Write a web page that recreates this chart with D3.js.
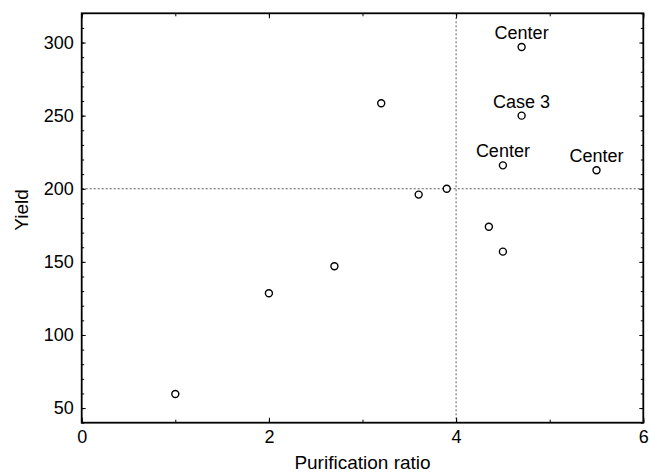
<!DOCTYPE html>
<html>
<head>
<meta charset="utf-8">
<script src="https://cdn.jsdelivr.net/npm/d3@7"></script>
<style>
html,body{margin:0;padding:0;background:#fff;}
svg{display:block;font-family:"Liberation Sans",Arial,Helvetica,sans-serif;}
</style>
</head>
<body>
<svg id="chart" width="649" height="473"></svg>
<script>
// Data
const purification = [1.0, 2.0, 2.7, 3.2, 3.6, 3.9, 4.35, 4.5, 4.5, 4.7, 4.7, 5.5];
const yieldVals    = [59.6, 128.5, 147, 258.5, 196, 200, 174, 157, 216, 297, 250, 212.7];
const pointLabels  = ["", "", "", "", "", "", "", "", "Center", "Center", "Case 3", "Center"];
const xTicks = [0, 2, 4, 6];
const yTicks = [50, 100, 150, 200, 250, 300];
const xRefLine = 4;
const yRefLine = 200;

(function () {
const svg = d3.select("#chart");
const pL = 81.7, pR = 643.3, pT = 13.3, pB = 422.7;

const x = d3.scaleLinear().domain([0, 6]).range([pL, pR]);
const y = d3.scaleLinear().domain([40, 320]).range([pB, pT]);

// reference lines
svg.append("line")
  .attr("x1", x(xRefLine)).attr("x2", x(xRefLine))
  .attr("y1", pT).attr("y2", pB)
  .attr("stroke", "#333").attr("stroke-width", 0.8).attr("stroke-dasharray", "2,2");
svg.append("line")
  .attr("x1", pL).attr("x2", pR)
  .attr("y1", y(yRefLine)).attr("y2", y(yRefLine))
  .attr("stroke", "#333").attr("stroke-width", 0.8).attr("stroke-dasharray", "2,2");

// minor ticks
const xMinor = d3.range(0, 6.01, 1);
const yMinor = d3.range(40, 320.1, 10);

function tickAxis(axisGen, transform) {
  const g = svg.append("g").attr("transform", transform).call(axisGen);
  g.select(".domain").remove();
  g.selectAll("line").attr("stroke", "#000").attr("stroke-width", 1);
  return g;
}

tickAxis(d3.axisBottom(x).tickValues(xMinor).tickSize(-3).tickFormat(""), `translate(0,${pB})`);
tickAxis(d3.axisBottom(x).tickValues(xTicks).tickSize(-5).tickFormat(""), `translate(0,${pB})`);
tickAxis(d3.axisTop(x).tickValues(xMinor).tickSize(-3).tickFormat(""), `translate(0,${pT})`);
tickAxis(d3.axisTop(x).tickValues(xTicks).tickSize(-5).tickFormat(""), `translate(0,${pT})`);
tickAxis(d3.axisLeft(y).tickValues(yMinor).tickSize(-2.5).tickFormat(""), `translate(${pL},0)`);
tickAxis(d3.axisLeft(y).tickValues(yTicks).tickSize(-4).tickFormat(""), `translate(${pL},0)`);
tickAxis(d3.axisRight(y).tickValues(yMinor).tickSize(-2.5).tickFormat(""), `translate(${pR},0)`);
tickAxis(d3.axisRight(y).tickValues(yTicks).tickSize(-4).tickFormat(""), `translate(${pR},0)`);

// tick labels
const xl = svg.append("g").attr("transform", `translate(0,${pB})`)
  .call(d3.axisBottom(x).tickValues(xTicks).tickSize(0).tickPadding(8).tickFormat(d3.format("d")));
xl.select(".domain").remove();
xl.selectAll("text").attr("font-size", 18).attr("fill", "#000").attr("font-family", "Liberation Sans, Arial, sans-serif");

const yl = svg.append("g").attr("transform", `translate(${pL},0)`)
  .call(d3.axisLeft(y).tickValues(yTicks).tickSize(0).tickPadding(8).tickFormat(d3.format("d")));
yl.select(".domain").remove();
yl.selectAll("text").attr("font-size", 18).attr("fill", "#000").attr("font-family", "Liberation Sans, Arial, sans-serif");

// frame
svg.append("rect")
  .attr("x", pL).attr("y", pT)
  .attr("width", pR - pL).attr("height", pB - pT)
  .attr("fill", "none").attr("stroke", "#000").attr("stroke-width", 1.8);

// points
const data = purification.map((p, i) => ({p, v: yieldVals[i], label: pointLabels[i]}));
svg.append("g").selectAll("circle").data(data).join("circle")
  .attr("cx", d => x(d.p)).attr("cy", d => y(d.v)).attr("r", 3.5)
  .attr("fill", "#fff").attr("stroke", "#000").attr("stroke-width", 1.4);

svg.append("g").selectAll("text").data(data.filter(d => d.label)).join("text")
  .attr("x", d => x(d.p)).attr("y", d => y(d.v) - 8)
  .attr("text-anchor", "middle").attr("font-size", 18).attr("fill", "#000")
  .text(d => d.label);

// axis titles
svg.append("text")
  .attr("x", (pL + pR) / 2).attr("y", 469)
  .attr("text-anchor", "middle").attr("font-size", 19).attr("fill", "#000")
  .text("Purification ratio");
svg.append("text")
  .attr("transform", `translate(28,210) rotate(-90)`)
  .attr("text-anchor", "middle").attr("font-size", 19).attr("fill", "#000")
  .text("Yield");
})();
</script>
</body>
</html>
